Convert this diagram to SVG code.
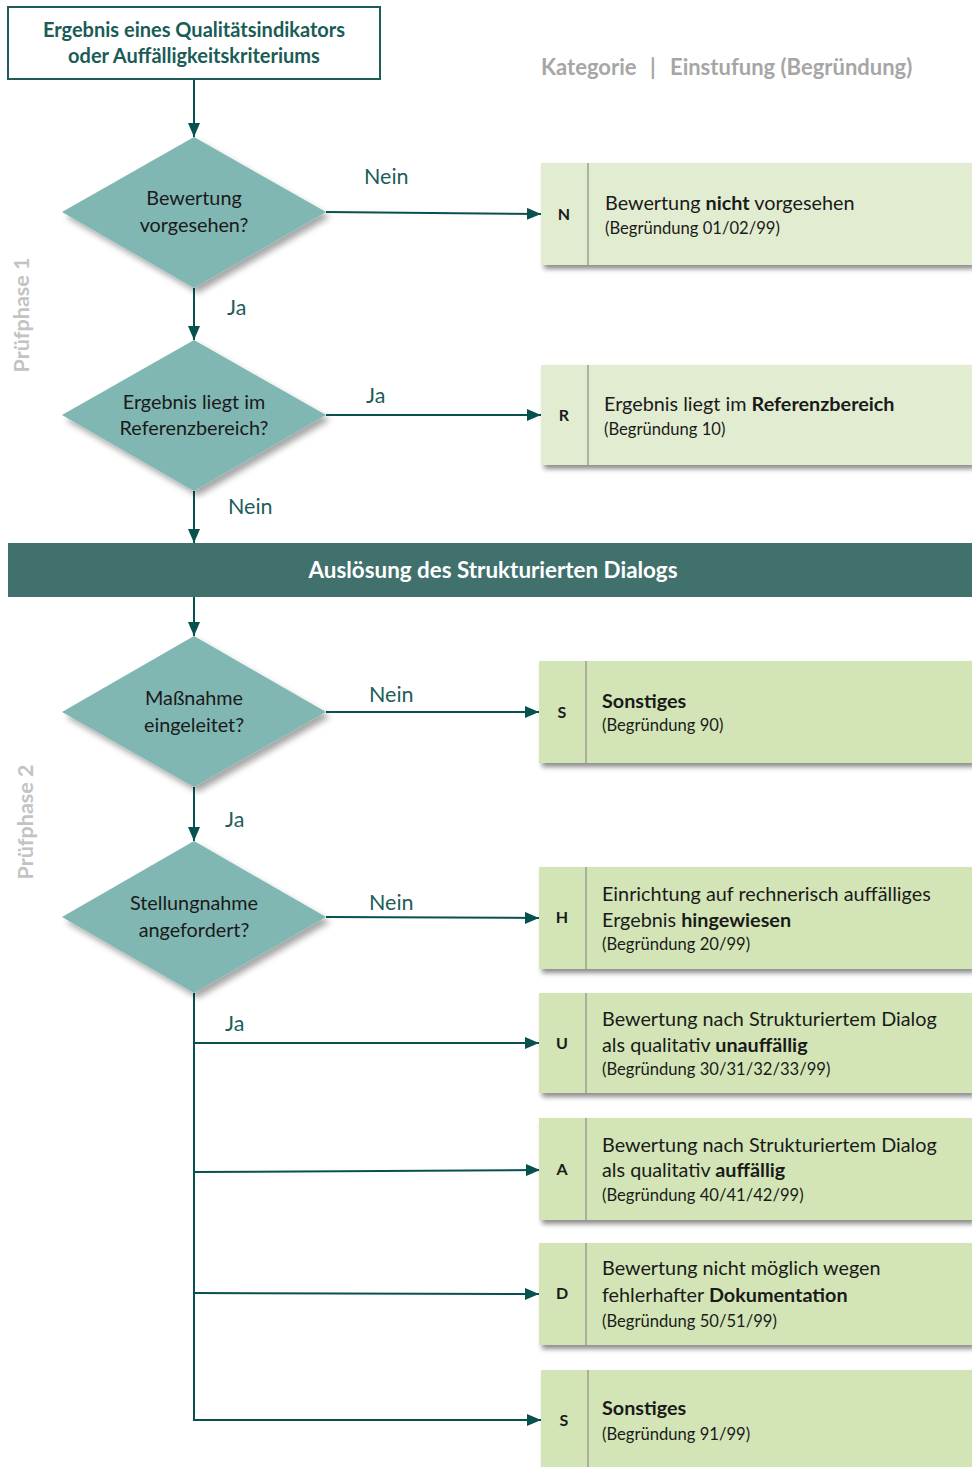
<svg xmlns="http://www.w3.org/2000/svg" width="972" height="1467" viewBox="0 0 972 1467">
<defs>
<marker id="ah" viewBox="0 0 14 12" refX="14" refY="6" markerWidth="14" markerHeight="12" markerUnits="userSpaceOnUse" orient="auto">
<path d="M0,0 L14,6 L0,12 Z" fill="#07524f"/>
</marker>
<filter id="sh" x="-10%" y="-10%" width="130%" height="140%">
<feDropShadow dx="3" dy="4" stdDeviation="2.5" flood-color="#000" flood-opacity="0.45"/>
</filter>
<filter id="shd" x="-10%" y="-10%" width="130%" height="130%">
<feDropShadow dx="4" dy="5" stdDeviation="3" flood-color="#000" flood-opacity="0.35"/>
</filter>
</defs>
<style>
text{font-family:Lato,"Open Sans","Liberation Sans",sans-serif;}
.dia{fill:#80b7b3;filter:url(#shd);}
.dt{font-size:19.8px;fill:#1a1a1a;text-anchor:middle;}
.lbl{font-size:21.5px;fill:#1d5d5a;}
.c{stroke:#07524f;stroke-width:2;fill:none;}
.ca{stroke:#07524f;stroke-width:2;fill:none;marker-end:url(#ah);}
.b1{fill:#e2ecd0;filter:url(#sh);}
.b2{fill:#d3e5b6;filter:url(#sh);}
.div{stroke:#9a9f92;stroke-width:1.5;}
.k{font-size:16px;font-weight:bold;fill:#1a1a1a;text-anchor:middle;}
.m{font-size:19.8px;fill:#1a1a1a;}
.s{font-size:16.6px;fill:#1a1a1a;}
.bd{font-weight:bold;}
.ph{font-size:21.5px;font-weight:bold;fill:#c3c3c3;text-anchor:middle;}
.hd{font-size:22px;font-weight:bold;fill:#a6a6a6;}
</style>

<g id="header">
<text class="hd" x="541" y="75">Kategorie</text>
<text class="hd" x="650" y="75">|</text>
<text class="hd" x="670" y="75">Einstufung (Begründung)</text>
</g>
<g id="phase1"><text class="ph" transform="translate(29,315) rotate(-90)">Prüfphase 1</text></g>
<g id="phase2"><text class="ph" transform="translate(33,822) rotate(-90)">Prüfphase 2</text></g>

<g id="connectors">
<line class="ca" x1="194" y1="79" x2="194" y2="137"/>
<line class="ca" x1="326" y1="212" x2="541" y2="214"/>
<line class="ca" x1="194" y1="288" x2="194" y2="340"/>
<line class="ca" x1="326" y1="415" x2="541" y2="415"/>
<line class="ca" x1="194" y1="491" x2="194" y2="543"/>
<line class="ca" x1="194" y1="597" x2="194" y2="636"/>
<line class="ca" x1="326" y1="712" x2="539" y2="712"/>
<line class="ca" x1="194" y1="787" x2="194" y2="841"/>
<line class="ca" x1="326" y1="917" x2="539" y2="918"/>
<line class="c" x1="194" y1="993" x2="194" y2="1420"/>
<line class="ca" x1="193" y1="1043" x2="539" y2="1043"/>
<line class="ca" x1="193" y1="1172" x2="540" y2="1170"/>
<line class="ca" x1="193" y1="1293" x2="539" y2="1294"/>
<line class="ca" x1="193" y1="1420" x2="541" y2="1420"/>
<text class="lbl" x="364" y="184">Nein</text>
<text class="lbl" x="227" y="315">Ja</text>
<text class="lbl" x="366" y="403">Ja</text>
<text class="lbl" x="228" y="514">Nein</text>
<text class="lbl" x="369" y="702">Nein</text>
<text class="lbl" x="225" y="827">Ja</text>
<text class="lbl" x="369" y="910">Nein</text>
<text class="lbl" x="225" y="1031">Ja</text>
</g>

<g id="start">
<rect x="8" y="7" width="372" height="72" fill="#fff" stroke="#1f5c57" stroke-width="2"/>
<text x="194" y="37" font-size="20" font-weight="bold" fill="#1a5c57" text-anchor="middle">Ergebnis eines Qualitätsindikators</text>
<text x="194" y="63" font-size="20" font-weight="bold" fill="#1a5c57" text-anchor="middle">oder Auffälligkeitskriteriums</text>
</g>

<g id="d1">
<polygon class="dia" points="194,137 326,212 194,288 62,212"/>
<text class="dt" x="194" y="205">Bewertung</text>
<text class="dt" x="194" y="232">vorgesehen?</text>
</g>
<g id="d2">
<polygon class="dia" points="194,340 326,415 194,491 62,415"/>
<text class="dt" x="194" y="409">Ergebnis liegt im</text>
<text class="dt" x="194" y="435">Referenzbereich?</text>
</g>

<g id="band">
<rect x="8" y="543" width="964" height="54" fill="#41716d"/>
<text x="493" y="578" font-size="22.4" font-weight="bold" fill="#fff" text-anchor="middle">Auslösung des Strukturierten Dialogs</text>
</g>

<g id="d3">
<polygon class="dia" points="194,636 326,712 194,787 62,712"/>
<text class="dt" x="194" y="705">Maßnahme</text>
<text class="dt" x="194" y="732">eingeleitet?</text>
</g>
<g id="d4">
<polygon class="dia" points="194,841 326,917 194,993 62,917"/>
<text class="dt" x="194" y="910">Stellungnahme</text>
<text class="dt" x="194" y="937">angefordert?</text>
</g>

<g id="boxN">
<rect class="b1" x="541" y="163" width="431" height="102"/>
<line class="div" x1="588" y1="163" x2="588" y2="265"/>
<text class="k" x="564" y="220">N</text>
<text class="m" x="605" y="210">Bewertung <tspan class="bd">nicht</tspan> vorgesehen</text>
<text class="s" x="605" y="234">(Begründung 01/02/99)</text>
</g>
<g id="boxR">
<rect class="b1" x="541" y="365" width="431" height="100"/>
<line class="div" x1="588" y1="365" x2="588" y2="465"/>
<text class="k" x="564" y="421">R</text>
<text class="m" x="604" y="411">Ergebnis liegt im <tspan class="bd">Referenzbereich</tspan></text>
<text class="s" x="604" y="435">(Begründung 10)</text>
</g>
<g id="boxS1">
<rect class="b2" x="539" y="661" width="433" height="102"/>
<line class="div" x1="586" y1="661" x2="586" y2="763"/>
<text class="k" x="562" y="718">S</text>
<text class="m bd" x="602" y="708">Sonstiges</text>
<text class="s" x="602" y="731">(Begründung 90)</text>
</g>
<g id="boxH">
<rect class="b2" x="539" y="867" width="433" height="102"/>
<line class="div" x1="586" y1="867" x2="586" y2="969"/>
<text class="k" x="562" y="923">H</text>
<text class="m" x="602" y="901">Einrichtung auf rechnerisch auffälliges</text>
<text class="m" x="602" y="927">Ergebnis <tspan class="bd">hingewiesen</tspan></text>
<text class="s" x="602" y="950">(Begründung 20/99)</text>
</g>
<g id="boxU">
<rect class="b2" x="539" y="993" width="433" height="100"/>
<line class="div" x1="586" y1="993" x2="586" y2="1093"/>
<text class="k" x="562" y="1049">U</text>
<text class="m" x="602" y="1026">Bewertung nach Strukturiertem Dialog</text>
<text class="m" x="602" y="1052">als qualitativ <tspan class="bd">unauffällig</tspan></text>
<text class="s" x="602" y="1075">(Begründung 30/31/32/33/99)</text>
</g>
<g id="boxA">
<rect class="b2" x="539" y="1118" width="433" height="102"/>
<line class="div" x1="586" y1="1118" x2="586" y2="1220"/>
<text class="k" x="562" y="1175">A</text>
<text class="m" x="602" y="1152">Bewertung nach Strukturiertem Dialog</text>
<text class="m" x="602" y="1177">als qualitativ <tspan class="bd">auffällig</tspan></text>
<text class="s" x="602" y="1201">(Begründung 40/41/42/99)</text>
</g>
<g id="boxD">
<rect class="b2" x="539" y="1243" width="433" height="102"/>
<line class="div" x1="586" y1="1243" x2="586" y2="1345"/>
<text class="k" x="562" y="1299">D</text>
<text class="m" x="602" y="1275">Bewertung nicht möglich wegen</text>
<text class="m" x="602" y="1302">fehlerhafter <tspan class="bd">Dokumentation</tspan></text>
<text class="s" x="602" y="1327">(Begründung 50/51/99)</text>
</g>
<g id="boxS2">
<rect class="b2" x="541" y="1370" width="431" height="110"/>
<line class="div" x1="588" y1="1370" x2="588" y2="1467"/>
<text class="k" x="564" y="1426">S</text>
<text class="m bd" x="602" y="1415">Sonstiges</text>
<text class="s" x="602" y="1440">(Begründung 91/99)</text>
</g>
</svg>
